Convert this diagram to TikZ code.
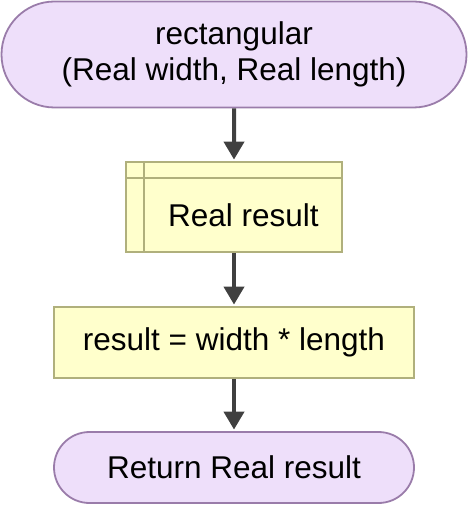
\documentclass[tikz,border=0pt]{standalone}
\usepackage{fontspec}
\setmainfont{Liberation Sans}
\usepackage{xcolor}
\usepackage{tikz}
\usetikzlibrary{shapes.misc,calc,arrows.meta}
\definecolor{termfill}{HTML}{EEDFFA}
\definecolor{termline}{HTML}{9A7CAA}
\definecolor{boxfill}{HTML}{FFFFCC}
\definecolor{boxline}{HTML}{B0B07C}
\definecolor{flowline}{HTML}{404040}

\begin{document}
\begin{tikzpicture}[x=1pt,y=-1pt,
    terminal/.style={rounded rectangle, draw=termline, fill=termfill, line width=1.8pt, align=center, inner sep=0pt},
    process/.style={rectangle, draw=boxline, fill=boxfill, line width=1.8pt, inner sep=0pt},
    flow/.style={draw=flowline, line width=4pt, -{Triangle[width=20pt,length=18pt]}, shorten >=1.5pt},
    font=\fontsize{31.5}{36}\selectfont]
  \useasboundingbox (0,0) rectangle (469,505);
  % blocks
  \node[terminal, minimum width=465pt, minimum height=106pt] (start) at (234,54.5) {rectangular\\(Real width, Real length)};
  \node[process, minimum width=216pt, minimum height=90pt] (decl) at (234,207) {};
  \draw[boxline, line width=1.8pt] ($(decl.north west)+(19,0)$) -- ($(decl.south west)+(19,0)$);
  \draw[boxline, line width=1.8pt] ($(decl.north west)+(0,17)$) -- ($(decl.north east)+(0,17)$);
  \node (decltext) at ($(decl.center)+(9.5,8.5)$) {Real result};
  \node[process, minimum width=360pt, minimum height=71pt] (assign) at (234,342.5) {result = width * length};
  \node[terminal, minimum width=360pt, minimum height=71pt] (stop) at (234,467.5) {Return Real result};
  % flow
  \draw[flow] (start) -- (decl);
  \draw[flow] (decl) -- (assign);
  \draw[flow] (assign) -- (stop);
\end{tikzpicture}
\end{document}
